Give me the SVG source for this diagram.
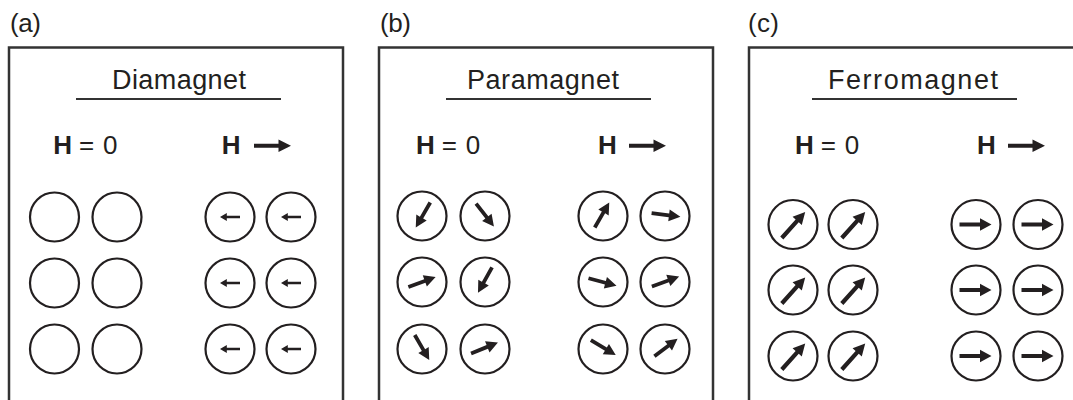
<svg xmlns="http://www.w3.org/2000/svg" xmlns:xlink="http://www.w3.org/1999/xlink" width="1073" height="400" viewBox="0 0 1073 400">
<style>
.box{fill:none;stroke:#333;stroke-width:2.5}
.ul{stroke:#333;stroke-width:2.2}
.c{fill:none;stroke:#231f20;stroke-width:2.2}
.lbl{font-family:"Liberation Sans",Arial,sans-serif;font-size:26px;fill:#231f20}
.ttl{font-family:"Liberation Sans",Arial,sans-serif;font-size:27px;fill:#231f20}
.h{font-family:"Liberation Sans",Arial,sans-serif;font-size:26px;fill:#231f20}
.b{font-weight:bold}
.ar{fill:#231f20}
</style>
<defs>
<path id="aH" class="ar" d="M-18.5,-2 H6 V-6.2 L18.5,0 L6,6.2 V2 H-18.5 Z"/>
<path id="aD" class="ar" d="M-10,-1.2 H3.2 V-4 L10,0 L3.2,4 V1.2 H-10 Z"/>
<path id="aP" class="ar" d="M-14.5,-1.9 H3 V-6 L14.5,0 L3,6 V1.9 H-14.5 Z"/>
<path id="aF" class="ar" d="M-17.5,-2.1 H5.5 V-6.2 L17.5,0 L5.5,6.2 V2.1 H-17.5 Z"/>
<path id="aR" class="ar" d="M-16,-2.1 H4.5 V-6.2 L16,0 L4.5,6.2 V2.1 H-16 Z"/>
</defs>

<g id="panel-a">
<text class="lbl" x="10" y="32" textLength="31">(a)</text>
<rect class="box" x="9" y="47.5" width="334" height="380"/>
<text class="ttl" x="112" y="89.3" textLength="134">Diamagnet</text>
<line class="ul" x1="76" y1="99" x2="281" y2="99"/>
<text class="h" y="154.3"><tspan class="b" x="53.3">H</tspan><tspan x="79">=</tspan><tspan x="103">0</tspan></text>
<text class="h b" x="221.7" y="154.3">H</text>
<use xlink:href="#aH" transform="translate(272.5,145.7)"/>
<g id="a-zero">
<circle class="c" cx="54.5" cy="217" r="24.5"/><circle class="c" cx="117" cy="217" r="24.5"/>
<circle class="c" cx="54.5" cy="283" r="24.5"/><circle class="c" cx="117" cy="283" r="24.5"/>
<circle class="c" cx="54.5" cy="349" r="24.5"/><circle class="c" cx="117" cy="349" r="24.5"/>
</g>
<g id="a-field">
<circle class="c" cx="230" cy="217" r="24.5"/><circle class="c" cx="291" cy="217" r="24.5"/>
<circle class="c" cx="230" cy="283" r="24.5"/><circle class="c" cx="291" cy="283" r="24.5"/>
<circle class="c" cx="230" cy="349" r="24.5"/><circle class="c" cx="291" cy="349" r="24.5"/>
<use xlink:href="#aD" transform="translate(230,217) rotate(180)"/>
<use xlink:href="#aD" transform="translate(291,217) rotate(180)"/>
<use xlink:href="#aD" transform="translate(230,283) rotate(180)"/>
<use xlink:href="#aD" transform="translate(291,283) rotate(180)"/>
<use xlink:href="#aD" transform="translate(230,349) rotate(180)"/>
<use xlink:href="#aD" transform="translate(291,349) rotate(180)"/>
</g>
</g>

<g id="panel-b">
<text class="lbl" x="380" y="32" textLength="31">(b)</text>
<rect class="box" x="379" y="47.5" width="334" height="380"/>
<text class="ttl" x="467" y="89.3" textLength="152">Paramagnet</text>
<line class="ul" x1="446" y1="99" x2="651" y2="99"/>
<text class="h" y="154.3"><tspan class="b" x="416">H</tspan><tspan x="441.7">=</tspan><tspan x="465.7">0</tspan></text>
<text class="h b" x="598" y="154.3">H</text>
<use xlink:href="#aH" transform="translate(647.5,145.7)"/>
<g id="b-zero">
<circle class="c" cx="422" cy="216" r="24.5"/><circle class="c" cx="485" cy="216" r="24.5"/>
<circle class="c" cx="422" cy="282" r="24.5"/><circle class="c" cx="485" cy="282" r="24.5"/>
<circle class="c" cx="422" cy="349" r="24.5"/><circle class="c" cx="485" cy="349" r="24.5"/>
<use xlink:href="#aP" transform="translate(423,215) rotate(120)"/>
<use xlink:href="#aP" transform="translate(485,215) rotate(52)"/>
<use xlink:href="#aP" transform="translate(422,282) rotate(-20)"/>
<use xlink:href="#aP" transform="translate(485,280) rotate(119)"/>
<use xlink:href="#aP" transform="translate(422,347.5) rotate(60)"/>
<use xlink:href="#aP" transform="translate(484.5,348) rotate(-22)"/>
</g>
<g id="b-field">
<circle class="c" cx="603" cy="216" r="24.5"/><circle class="c" cx="665" cy="216" r="24.5"/>
<circle class="c" cx="603" cy="282" r="24.5"/><circle class="c" cx="665" cy="282" r="24.5"/>
<circle class="c" cx="603" cy="349" r="24.5"/><circle class="c" cx="665" cy="349" r="24.5"/>
<use xlink:href="#aP" transform="translate(602,215) rotate(-60)"/>
<use xlink:href="#aP" transform="translate(666,215) rotate(7)"/>
<use xlink:href="#aP" transform="translate(602.5,282) rotate(15)"/>
<use xlink:href="#aP" transform="translate(665.5,281.5) rotate(-20)"/>
<use xlink:href="#aP" transform="translate(603.3,347.5) rotate(31)"/>
<use xlink:href="#aP" transform="translate(666,347.5) rotate(-37)"/>
</g>
</g>

<g id="panel-c">
<text class="lbl" x="748" y="32" textLength="31">(c)</text>
<rect class="box" x="749" y="47.5" width="340" height="380"/>
<text class="ttl" x="828" y="89.3" textLength="170">Ferromagnet</text>
<line class="ul" x1="812" y1="99" x2="1017" y2="99"/>
<text class="h" y="154.3"><tspan class="b" x="795">H</tspan><tspan x="820.7">=</tspan><tspan x="844.7">0</tspan></text>
<text class="h b" x="977" y="154.3">H</text>
<use xlink:href="#aH" transform="translate(1026.5,145.7)"/>
<g id="c-zero">
<circle class="c" cx="793" cy="224.5" r="24.5"/><circle class="c" cx="853" cy="224.5" r="24.5"/>
<circle class="c" cx="793" cy="290" r="24.5"/><circle class="c" cx="853" cy="290" r="24.5"/>
<circle class="c" cx="793" cy="356" r="24.5"/><circle class="c" cx="853" cy="356" r="24.5"/>
<use xlink:href="#aF" transform="translate(793.5,225) rotate(-48)"/>
<use xlink:href="#aF" transform="translate(853.5,225) rotate(-48)"/>
<use xlink:href="#aF" transform="translate(793.5,290.5) rotate(-48)"/>
<use xlink:href="#aF" transform="translate(853.5,290.5) rotate(-48)"/>
<use xlink:href="#aF" transform="translate(793.5,356.5) rotate(-48)"/>
<use xlink:href="#aF" transform="translate(853.5,356.5) rotate(-48)"/>
</g>
<g id="c-field">
<circle class="c" cx="976" cy="224.5" r="24.5"/><circle class="c" cx="1038" cy="224.5" r="24.5"/>
<circle class="c" cx="976" cy="290" r="24.5"/><circle class="c" cx="1038" cy="290" r="24.5"/>
<circle class="c" cx="976" cy="356" r="24.5"/><circle class="c" cx="1038" cy="356" r="24.5"/>
<use xlink:href="#aR" transform="translate(975.5,224.5)"/>
<use xlink:href="#aR" transform="translate(1037.5,224.5)"/>
<use xlink:href="#aR" transform="translate(975.5,290)"/>
<use xlink:href="#aR" transform="translate(1037.5,290)"/>
<use xlink:href="#aR" transform="translate(975.5,356)"/>
<use xlink:href="#aR" transform="translate(1037.5,356)"/>
</g>
</g>
</svg>
